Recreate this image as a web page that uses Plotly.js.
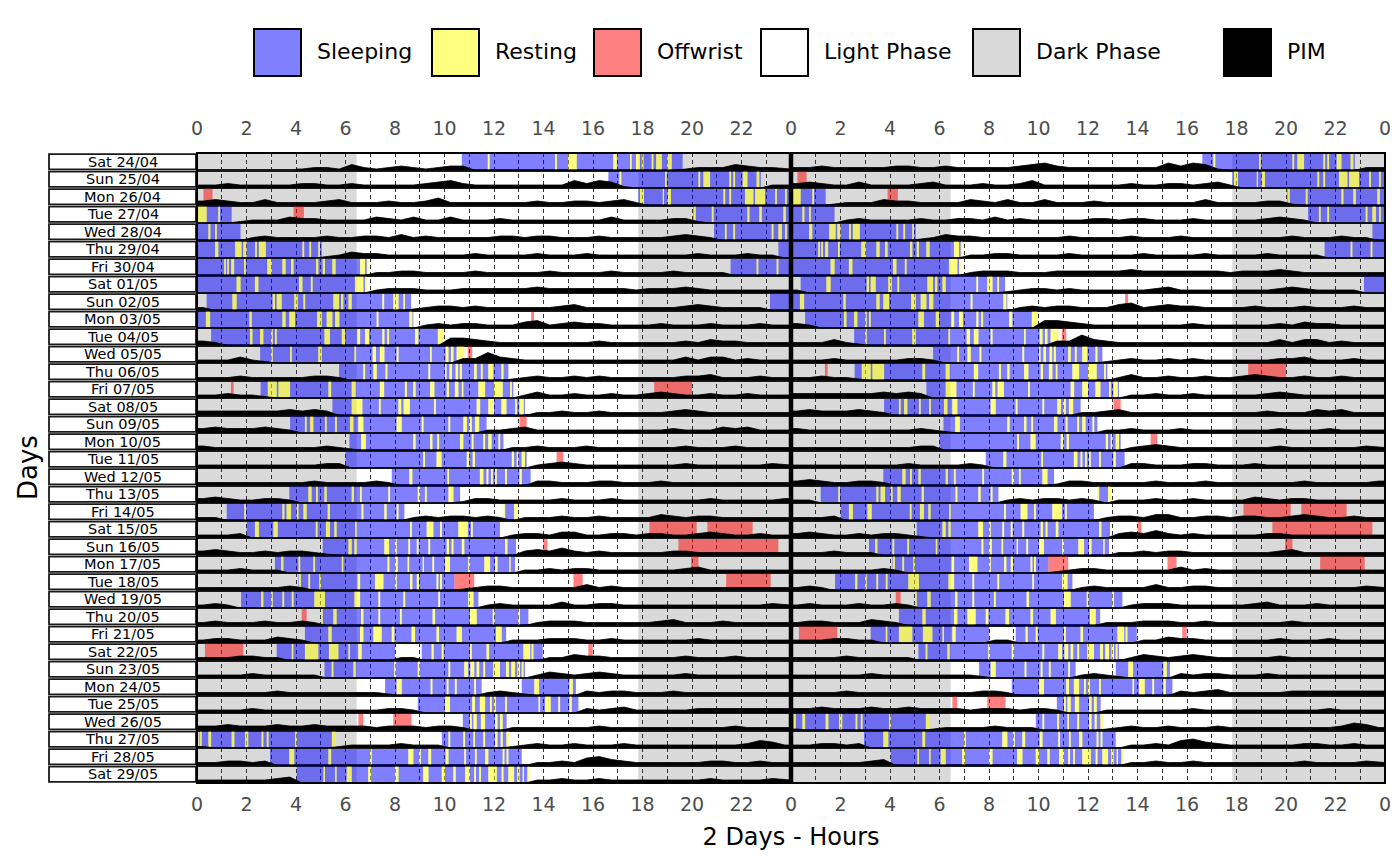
<!DOCTYPE html>
<html>
<head>
<meta charset="utf-8">
<script src="https://cdn.plot.ly/plotly-3.0.1.min.js"></script>
<style>
body { margin: 0; background: #fff; }
#myDiv { width: 1400px; height: 866px; }
</style>
</head>
<body>
<div id="myDiv"></div>
<script>
// rows of the double plot: row d shows day d (0-24 h) and day d+1 (24-48 h)
var dayLabels = ['Sat 24/04', 'Sun 25/04', 'Mon 26/04', 'Tue 27/04', 'Wed 28/04', 'Thu 29/04',
  'Fri 30/04', 'Sat 01/05', 'Sun 02/05', 'Mon 03/05', 'Tue 04/05', 'Wed 05/05', 'Thu 06/05',
  'Fri 07/05', 'Sat 08/05', 'Sun 09/05', 'Mon 10/05', 'Tue 11/05', 'Wed 12/05', 'Thu 13/05',
  'Fri 14/05', 'Sat 15/05', 'Sun 16/05', 'Mon 17/05', 'Tue 18/05', 'Wed 19/05', 'Thu 20/05',
  'Fri 21/05', 'Sat 22/05', 'Sun 23/05', 'Mon 24/05', 'Tue 25/05', 'Wed 26/05', 'Thu 27/05',
  'Fri 28/05', 'Sat 29/05'];

var tickLabels = ['0', '2', '4', '6', '8', '10', '12', '14', '16', '18', '20', '22',
  '0', '2', '4', '6', '8', '10', '12', '14', '16', '18', '20', '22', '0'];

// dark phase of each day, hours
var darkPhase = [[0, 6.45], [17.83, 24]];

// [day, start h, end h]
var sleepBouts = [
  [0, 10.7, 19.62], [1, 16.62, 22.78], [2, 17.83, 24], [3, 0, 1.4], [3, 20.06, 24],
  [4, 0, 1.76], [4, 20.89, 24], [5, 0, 5.04], [5, 23.49, 24], [6, 0, 6.92], [6, 21.56, 24],
  [7, 0, 6.86], [8, 0.39, 8.65], [8, 23.15, 24], [9, 0, 8.74], [10, 0.57, 9.95],
  [11, 2.55, 10.49], [12, 5.74, 12.58], [13, 2.57, 12.78], [14, 5.47, 13.25], [15, 3.76, 11.7],
  [16, 6.16, 12.38], [17, 6.0, 13.32], [18, 7.87, 13.48], [19, 3.73, 10.63], [20, 1.2, 8.38],
  [20, 12.38, 12.92], [21, 2.01, 12.24], [22, 5.08, 12.89], [23, 3.15, 12.85], [24, 4.1, 10.4],
  [25, 1.78, 11.37], [26, 5.01, 13.39], [27, 4.36, 12.49], [28, 3.22, 8.0], [28, 9.08, 13.97],
  [29, 5.15, 13.25], [30, 7.6, 11.5], [30, 13.12, 15.31], [31, 8.92, 15.41], [32, 10.74, 12.51],
  [33, 0.1, 5.6], [33, 9.89, 12.6], [34, 2.95, 13.12], [35, 4.03, 13.43]
];

// [day, start h, end h] ; a single time is a short stripe
var restBouts = [
  [0, 11.75], [0, 14.47], [0, 15.0, 15.34], [0, 16.82, 16.96], [0, 17.5, 17.56], [0, 17.74, 17.9], [0, 17.97], [0, 18.37], [0, 18.55, 18.78], [0, 19.0, 19.18],
  [1, 17.07], [1, 18.91], [1, 20.26], [1, 20.46, 20.73], [1, 21.51], [1, 21.67], [1, 22.05, 22.24], [1, 22.61, 22.72],
  [2, 17.9, 18.06], [2, 18.82, 18.87], [2, 19.02, 19.15], [2, 21.27, 21.34], [2, 21.51], [2, 22.14, 22.48], [2, 22.55, 22.95], [2, 23.36], [2, 23.76],
  [3, 0, 0.39], [3, 0.86], [3, 20.08], [3, 20.8], [3, 22.24, 22.32], [3, 22.72, 22.82], [3, 23.69, 23.79],
  [4, 0.46, 0.54], [4, 0.73, 0.8], [4, 21.33, 21.4], [4, 21.67, 21.74], [4, 23.22, 23.29], [4, 23.49, 23.63], [4, 23.76],
  [5, 0.73, 0.86], [5, 1.54, 1.8], [5, 1.87, 2.0], [5, 2.35], [5, 2.5, 2.78], [5, 4.26], [5, 4.54], [5, 4.9],
  [6, 1.1], [6, 1.22], [6, 1.38, 1.5], [6, 1.9], [6, 2.84, 3.02], [6, 3.45, 3.58], [6, 3.8, 3.9], [6, 4.81, 4.9], [6, 5.08, 5.17], [6, 5.47, 5.6], [6, 6.59, 6.79], [6, 6.86], [6, 22.61], [6, 23.42],
  [7, 1.6, 1.76], [7, 2.34, 2.48], [7, 4.12, 4.26], [7, 4.6], [7, 6.38, 6.72], [7, 6.79],
  [8, 1.43, 1.6], [8, 3.06, 3.15], [8, 3.22, 3.42], [8, 3.93, 4.07], [8, 4.3, 4.37], [8, 5.51, 5.74], [8, 5.82, 5.91], [8, 6.12, 6.25], [8, 7.49], [8, 7.93, 8.14], [8, 8.34, 8.4],
  [9, 0.36, 0.53], [9, 2.12, 2.21], [9, 3.45, 3.58], [9, 3.73, 3.96], [9, 4.85, 5.04], [9, 5.24, 5.47], [9, 5.58, 5.75], [9, 7.26], [9, 8.58, 8.7],
  [10, 2.14, 2.24], [10, 2.55, 2.68], [10, 2.99, 3.06], [10, 3.15], [10, 5.15, 5.37], [10, 5.85, 5.98], [10, 6.48, 6.59], [10, 6.79, 6.95], [10, 7.49, 7.57], [10, 7.69], [10, 8.81, 8.94], [10, 9.73, 9.95],
  [11, 2.99, 3.06], [11, 3.76, 3.83], [11, 4.9, 5.04], [11, 6.36, 6.43], [11, 7.1, 7.23], [11, 7.39, 7.57], [11, 8.07], [11, 9.42, 9.48], [11, 10.05, 10.16], [11, 10.26, 10.36], [11, 10.49, 10.8],
  [12, 6.72, 6.79], [12, 7.13, 7.26], [12, 7.62, 7.69], [12, 9.35, 9.42], [12, 10.02, 10.08], [12, 10.2, 10.3], [12, 10.45, 10.55], [12, 10.62, 10.7], [12, 11.2, 11.3], [12, 11.47, 11.54], [12, 11.77, 11.97], [12, 12.3, 12.38],
  [13, 2.86, 3.22], [13, 3.29, 3.76], [13, 5.31, 5.42], [13, 6.25, 6.41], [13, 7.39, 7.56], [13, 8.4, 8.48], [13, 8.74, 8.83], [13, 9.42, 9.59], [13, 10.09, 10.18], [13, 10.42, 10.56], [13, 10.7, 10.76], [13, 11.37, 11.64], [13, 12.0, 12.35], [13, 12.65, 12.72],
  [14, 6.25, 6.68], [14, 7.35], [14, 8.14, 8.25], [14, 8.35, 8.6], [14, 9.58, 9.65], [14, 11.3, 11.44], [14, 11.77, 12.0], [14, 12.3, 12.5], [14, 12.85, 12.92], [14, 13.03, 13.2],
  [15, 4.36, 4.43], [15, 4.57, 4.7], [15, 5.17], [15, 5.58], [15, 6.18, 6.32], [15, 6.52, 6.72], [15, 8.07, 8.27], [15, 9.08], [15, 10.16], [15, 10.76, 10.9], [15, 11.0, 11.1], [15, 11.23, 11.4],
  [16, 6.63, 6.82], [16, 8.74, 8.83], [16, 9.42, 9.51], [16, 9.71, 9.78], [16, 10.63, 10.76], [16, 11.1], [16, 11.57], [16, 11.77, 11.9], [16, 12.18, 12.25],
  [17, 9.14], [17, 9.68, 9.88], [17, 10.9, 11.0], [17, 11.14, 11.23], [17, 12.72, 12.81], [17, 12.92, 12.98], [17, 13.12, 13.25],
  [18, 8.58, 8.7], [18, 10.12, 10.18], [18, 11.43, 11.57], [18, 11.7, 11.77], [18, 11.88], [18, 12.04], [18, 12.45], [18, 13.03, 13.12],
  [19, 4.5, 4.63], [19, 4.81], [19, 5.15, 5.24], [19, 6.25, 6.34], [19, 6.59, 6.65], [19, 7.73], [19, 8.92, 9.01], [19, 9.21, 9.28], [19, 10.16, 10.36],
  [20, 1.91], [20, 3.45, 3.53], [20, 3.62, 3.8], [20, 4.03], [20, 4.3, 4.43], [20, 5.28, 5.37], [20, 6.65], [20, 7.57, 7.66], [20, 8.07], [20, 12.38, 12.45], [20, 12.81, 12.92],
  [21, 2.34, 2.5], [21, 3.09, 3.26], [21, 4.8], [21, 5.21, 5.37], [21, 5.55, 5.64], [21, 6.39, 6.45], [21, 8.61, 8.68], [21, 9.28, 9.55], [21, 9.82], [21, 10.56, 10.94], [21, 11.07],
  [22, 6.12, 6.25], [22, 6.36, 6.45], [22, 7.57, 7.76], [22, 8.0], [22, 8.54, 8.61], [22, 8.88], [22, 9.35], [22, 10.09, 10.18], [22, 10.29, 10.36], [22, 10.7, 10.8], [22, 12.45, 12.54],
  [23, 3.4, 3.49], [23, 4.1], [23, 4.7], [23, 5.85, 5.91], [23, 7.7], [23, 8.0, 8.11], [23, 8.51, 8.57], [23, 9.12, 9.17], [23, 9.51], [23, 10.02, 10.22], [23, 10.96, 11.03], [23, 11.61, 11.84], [23, 12.04, 12.14], [23, 12.62, 12.67],
  [24, 4.12, 4.2], [24, 4.5, 4.57], [24, 4.94], [24, 6.49, 6.59], [24, 7.19, 7.53], [24, 8.0, 8.07], [24, 8.61, 8.7], [24, 8.88, 8.97], [24, 9.68], [24, 9.82],
  [25, 2.59, 2.68], [25, 2.99], [25, 3.45], [25, 3.83], [25, 4.74, 5.17], [25, 6.36, 6.59], [25, 7.33], [25, 8.34], [25, 9.75], [25, 10.96, 11.17],
  [26, 5.01, 5.08], [26, 5.51, 5.64], [26, 6.63, 6.72], [26, 7.33], [26, 8.2], [26, 9.52, 9.62], [26, 11.03, 11.3], [26, 11.95], [26, 12.98, 13.05],
  [27, 5.31, 5.44], [27, 6.59, 6.72], [27, 7.13, 7.46], [27, 7.87, 7.97], [27, 8.67, 8.81], [27, 9.68, 9.78], [27, 10.49, 10.7], [27, 12.08, 12.31],
  [28, 3.83, 3.89], [28, 4.36, 4.9], [28, 5.33, 5.71], [28, 6.12, 6.18], [28, 6.52, 6.65], [28, 9.48, 9.56], [28, 9.89, 9.96], [28, 11.03], [28, 11.7, 11.8], [28, 13.19, 13.46], [28, 13.52],
  [29, 5.44], [29, 6.32, 6.41], [29, 7.97], [29, 8.92, 9.01], [29, 10.16], [29, 10.8, 10.95], [29, 11.05, 11.2], [29, 11.3, 11.4], [29, 11.57], [29, 11.97, 12.24], [29, 12.49, 12.6], [29, 12.7, 12.85], [29, 12.95, 13.05], [29, 13.12],
  [30, 8.07, 8.27], [30, 9.44], [30, 10.09, 10.16], [30, 10.42], [30, 11.2], [30, 13.63, 13.82], [30, 15.05, 15.18],
  [31, 10.02, 10.22], [31, 11.12, 11.23], [31, 11.43, 11.64], [31, 11.84], [31, 12.0], [31, 12.45], [31, 13.8, 13.86], [31, 14.06, 14.29], [31, 14.6], [31, 15.05, 15.14],
  [32, 11.03], [32, 11.17, 11.3], [32, 11.47, 11.64], [32, 12.04, 12.14], [32, 12.24, 12.35],
  [33, 0.12, 0.19], [33, 0.46, 0.57], [33, 1.4, 1.51], [33, 1.94, 2.07], [33, 2.61, 2.68], [33, 2.82], [33, 3.96], [33, 5.45, 5.6], [33, 10.16], [33, 10.76], [33, 11.17, 11.23], [33, 11.57], [33, 12.04, 12.14], [33, 12.27, 12.35], [33, 12.5, 12.6],
  [34, 3.73, 3.93], [34, 5.31, 5.42], [34, 6.99, 7.06], [34, 8.54, 8.74], [34, 8.97], [34, 9.35, 9.46], [34, 10.05, 10.16], [34, 10.8], [34, 11.23], [34, 11.64, 11.77], [34, 12.35], [34, 12.51, 12.58],
  [35, 5.11, 5.17], [35, 5.58, 5.64], [35, 6.05, 6.25], [35, 6.92, 7.03], [35, 8.0, 8.14], [35, 9.14, 9.35], [35, 9.89, 10.02], [35, 10.36, 10.45], [35, 10.83, 11.03], [35, 11.2], [35, 11.4], [35, 11.77], [35, 11.84, 12.11], [35, 12.31], [35, 12.58, 12.81], [35, 12.94, 13.03], [35, 13.16, 13.21], [35, 13.35, 13.43]
];

var offwristBouts = [
  [2, 0.26, 0.63], [3, 3.9, 4.32], [9, 13.5, 13.62], [11, 10.94, 11.12], [13, 1.37, 1.48],
  [13, 18.47, 20.0], [15, 13.03, 13.32], [17, 14.53, 14.8], [21, 18.28, 20.19], [21, 20.62, 22.45],
  [22, 14.0, 14.16], [22, 19.45, 23.49], [23, 19.96, 20.26], [24, 10.4, 11.2], [24, 15.21, 15.58],
  [24, 21.38, 23.18], [26, 4.23, 4.43], [28, 0.32, 1.87], [28, 15.81, 15.99], [32, 6.52, 6.72],
  [32, 7.93, 8.67]
];

// PIM activity per half hour (0-9 scale, '-' = no recording), four 6 h blocks per day
var pimHalfHour = [
  '--------1221 421232123300 000000000000 000122243221',
  '223222223322 322222345322 222222535410 000000000022',
  '343224222234 222322352222 222322332342 000000000000',
  '000122243322 224324224222 322222222422 223310000000',
  '000023222232 233242322222 332332223222 223432000000',
  '000000000012 433222222232 222322232222 222232223220',
  '000000000000 002233222232 222232222322 223222200000',
  '000000000000 002333222333 333433333332 333432222222',
  '200000000000 000001233232 222223422222 222343222200',
  '000000000000 000000232332 224523433222 232223222322',
  '320000000000 000000005543 222222223222 222324332222',
  '222421000000 000000000337 432222222222 222424423222',
  '222322222332 000000000000 012322323222 222334222322',
  '223221000000 000000000000 002422322322 343223223222',
  '333333343430 000000000000 000223223222 223432222222',
  '343334320000 000000000002 234222222222 223222434222',
  '322222222232 100000000000 022322232222 222322232222',
  '222222222233 000000000000 000234322222 222322222232',
  '222222222322 223200000000 000332223322 232222222222',
  '343223320000 000000000133 222223222322 222223222223',
  '220000000000 000002323323 202223223222 243233222222',
  '222300000000 000000000000 023324422332 332234322322',
  '343223233210 000000000000 003435323222 223322222222',
  '222322200000 000000000000 002232332222 222342222222',
  '222222232000 000000000123 322222242322 222222222222',
  '232000000000 000000000002 322224223322 222222222232',
  '232223223200 000000000000 000233322222 234222322222',
  '233222432000 000000000000 022233322322 222232222222',
  '222332200000 000022000000 000022433222 222322232222',
  '222232222200 000000000000 000243234322 222322222222',
  '222222322222 222100000002 321000032332 223222222222',
  '222232222222 222332000000 000000032342 222233333333',
  '334333433433 332333233200 022222223222 222222232222',
  '100000000001 222232220000 012322322232 222222223542',
  '223323000000 000000000000 000223256432 222223322322',
  '222222340000 000000000000 000223223222 222223222232'
];

var legendNames = ['Sleeping', 'Resting', 'Offwrist', 'Light Phase', 'Dark Phase', 'PIM'];
var legendColors = ['#8080ff', '#ffff80', '#ff8080', '#ffffff', '#d9d9d9', '#000000'];

// ---- page geometry
var W = 1400, H = 866, ML = 197, MR = 15, MT = 153, MB = 83;
var plotW = W - ML - MR, plotH = H - MT - MB;
function px(x) { return (x - ML) / plotW; }
function py(y) { return 1 - (y - MT) / plotH; }

var nRows = dayLabels.length;
var pimScale = 0.085;
var font = 'DejaVu Sans, Verdana, sans-serif';

// ---- episodes
function restEnd(r) { return r.length > 2 ? r[2] : r[1] + 0.07; }

function sleepMinusRest(bout) {
  var segs = [[bout[1], bout[2]]];
  restBouts.forEach(function (r) {
    if (r[0] !== bout[0]) return;
    var rs = r[1], re = restEnd(r), out = [];
    segs.forEach(function (sg) {
      if (re <= sg[0] || rs >= sg[1]) { out.push(sg); return; }
      if (rs > sg[0]) out.push([sg[0], rs]);
      if (re < sg[1]) out.push([re, sg[1]]);
    });
    segs = out;
  });
  return segs.map(function (sg) { return [bout[0], sg[0], sg[1]]; });
}

function barTrace(list, color, name) {
  var y = [], base = [], len = [];
  list.forEach(function (b) {
    var d = b[0], s = b[1], e = b[2];
    y.push(d + 0.5); base.push(s); len.push(e - s);
    if (d > 0) { y.push(d - 0.5); base.push(s + 24); len.push(e - s); }
  });
  return {
    type: 'bar', orientation: 'h', name: name,
    y: y, base: base, x: len, width: 0.9,
    marker: { color: color, line: { width: 0 } },
    hoverinfo: 'skip', showlegend: false
  };
}

var sleepSegs = [];
sleepBouts.forEach(function (b) { sleepSegs = sleepSegs.concat(sleepMinusRest(b)); });
var restSegs = restBouts.map(function (r) { return [r[0], r[1], restEnd(r)]; });

// ---- PIM area
var pimX = [], pimY = [];
function addPim(day, row, offset) {
  var s = pimHalfHour[day].replace(/ /g, '');
  var base = row + 1;
  var seg = [];
  function flush() {
    if (!seg.length) return;
    pimX.push(seg[0][0]); pimY.push(base);
    seg.forEach(function (p) { pimX.push(p[0]); pimY.push(base - p[1] * pimScale); });
    pimX.push(seg[seg.length - 1][0]); pimY.push(base);
    pimX.push(null); pimY.push(null);
    seg = [];
  }
  for (var k = 0; k < s.length; k++) {
    var c = s.charAt(k);
    if (c === '-') { flush(); continue; }
    var v = +c;
    if (!seg.length) seg.push([offset + k * 0.5, v]);
    seg.push([offset + k * 0.5 + 0.25, v]);
    if (k === s.length - 1 || s.charAt(k + 1) === '-') seg.push([offset + (k + 1) * 0.5, v]);
  }
  flush();
}
for (var d = 0; d < nRows; d++) {
  addPim(d, d, 0);
  if (d > 0) addPim(d, d - 1, 24);
}

var pimTrace = {
  type: 'scatter', mode: 'lines', x: pimX, y: pimY,
  fill: 'toself', fillcolor: '#000000',
  line: { color: '#000000', width: 0.8 },
  hoverinfo: 'skip', showlegend: false
};

var topAxisTrace = {
  type: 'scatter', mode: 'markers', x: [0, 48], y: [-5, -5], xaxis: 'x2',
  marker: { opacity: 0 }, hoverinfo: 'skip', showlegend: false
};

var data = [
  pimTrace,
  barTrace(sleepSegs, 'rgba(0,0,255,0.5)', 'Sleeping'),
  barTrace(restSegs, 'rgba(255,255,0,0.5)', 'Resting'),
  barTrace(offwristBouts, 'rgba(255,0,0,0.5)', 'Offwrist'),
  topAxisTrace
];

// ---- shapes and annotations
var shapes = [], annotations = [];

[0, 24].forEach(function (off) {
  darkPhase.forEach(function (p) {
    shapes.push({
      type: 'rect', xref: 'x', yref: 'paper', x0: off + p[0], x1: off + p[1], y0: 0, y1: 1,
      fillcolor: '#d9d9d9', line: { width: 0 }, layer: 'below'
    });
  });
});

dayLabels.forEach(function (lab, i) {
  shapes.push({
    type: 'rect', xref: 'paper', yref: 'y', x0: px(49), x1: px(196), y0: i + 0.06, y1: i + 0.94,
    fillcolor: '#ffffff', line: { color: '#1a1a1a', width: 1.8 }, layer: 'above'
  });
  annotations.push({
    xref: 'paper', yref: 'y', x: px(122.5), y: i + 0.5, text: lab, showarrow: false,
    xanchor: 'center', yanchor: 'middle', borderpad: 0,
    font: { family: font, size: 14.5, color: '#000000' }
  });
});

shapes.push({
  type: 'rect', xref: 'paper', yref: 'paper', x0: 0, x1: 1, y0: 0, y1: 1,
  line: { color: '#000000', width: 2 }, layer: 'above'
});
shapes.push({
  type: 'line', xref: 'x', yref: 'paper', x0: 24, x1: 24, y0: 0, y1: 1,
  line: { color: '#000000', width: 4.5 }, layer: 'above'
});

var legendLeft = [254, 432, 594, 761, 973, 1224];
legendNames.forEach(function (n, i) {
  shapes.push({
    type: 'rect', xref: 'paper', yref: 'paper',
    x0: px(legendLeft[i]), x1: px(legendLeft[i] + 47), y0: py(76), y1: py(29),
    fillcolor: legendColors[i], line: { color: '#000000', width: 2 }, layer: 'above'
  });
  annotations.push({
    xref: 'paper', yref: 'paper', x: px(legendLeft[i] + 61), y: py(52), text: n,
    showarrow: false, xanchor: 'left', yanchor: 'middle',
    font: { family: font, size: 22, color: '#000000' }
  });
});

annotations.push({
  xref: 'paper', yref: 'paper', x: px(28), y: 0.5, text: 'Days', textangle: -90,
  showarrow: false, xanchor: 'center', yanchor: 'middle',
  font: { family: font, size: 26, color: '#000000' }
});

var tickVals = tickLabels.map(function (t, i) { return i * 2; });
var rowEdges = [];
for (var r = 0; r <= nRows; r++) rowEdges.push(r);

var layout = {
  width: W, height: H,
  margin: { l: ML, r: MR, t: MT, b: MB, pad: 0 },
  paper_bgcolor: '#ffffff', plot_bgcolor: '#ffffff',
  barmode: 'overlay', showlegend: false, hovermode: false,
  font: { family: font },
  xaxis: {
    range: [0, 48], tickmode: 'array', tickvals: tickVals, ticktext: tickLabels,
    showgrid: true, gridcolor: '#333333', gridwidth: 1, griddash: '4px,3px',
    minor: { dtick: 1, tick0: 0, showgrid: true, gridcolor: '#333333', gridwidth: 1, griddash: '4px,3px', ticks: '' },
    zeroline: false, ticks: '', showline: false,
    tickfont: { family: font, size: 19, color: '#4d4d4d' }, ticklabelstandoff: 8,
    title: { text: '2 Days - Hours', font: { family: font, size: 24, color: '#000000' }, standoff: 14 }
  },
  xaxis2: {
    overlaying: 'x', side: 'top', anchor: 'y', range: [0, 48],
    tickmode: 'array', tickvals: tickVals, ticktext: tickLabels,
    showgrid: false, zeroline: false, ticks: '',
    tickfont: { family: font, size: 19, color: '#4d4d4d' }, ticklabelstandoff: 13
  },
  yaxis: {
    range: [nRows, 0], tickmode: 'array', tickvals: rowEdges, showticklabels: false,
    showgrid: true, gridcolor: '#1a1a1a', gridwidth: 2.5, zeroline: false, ticks: ''
  },
  shapes: shapes,
  annotations: annotations
};

Plotly.newPlot('myDiv', data, layout, { displayModeBar: false, staticPlot: true });
</script>
</body>
</html>
